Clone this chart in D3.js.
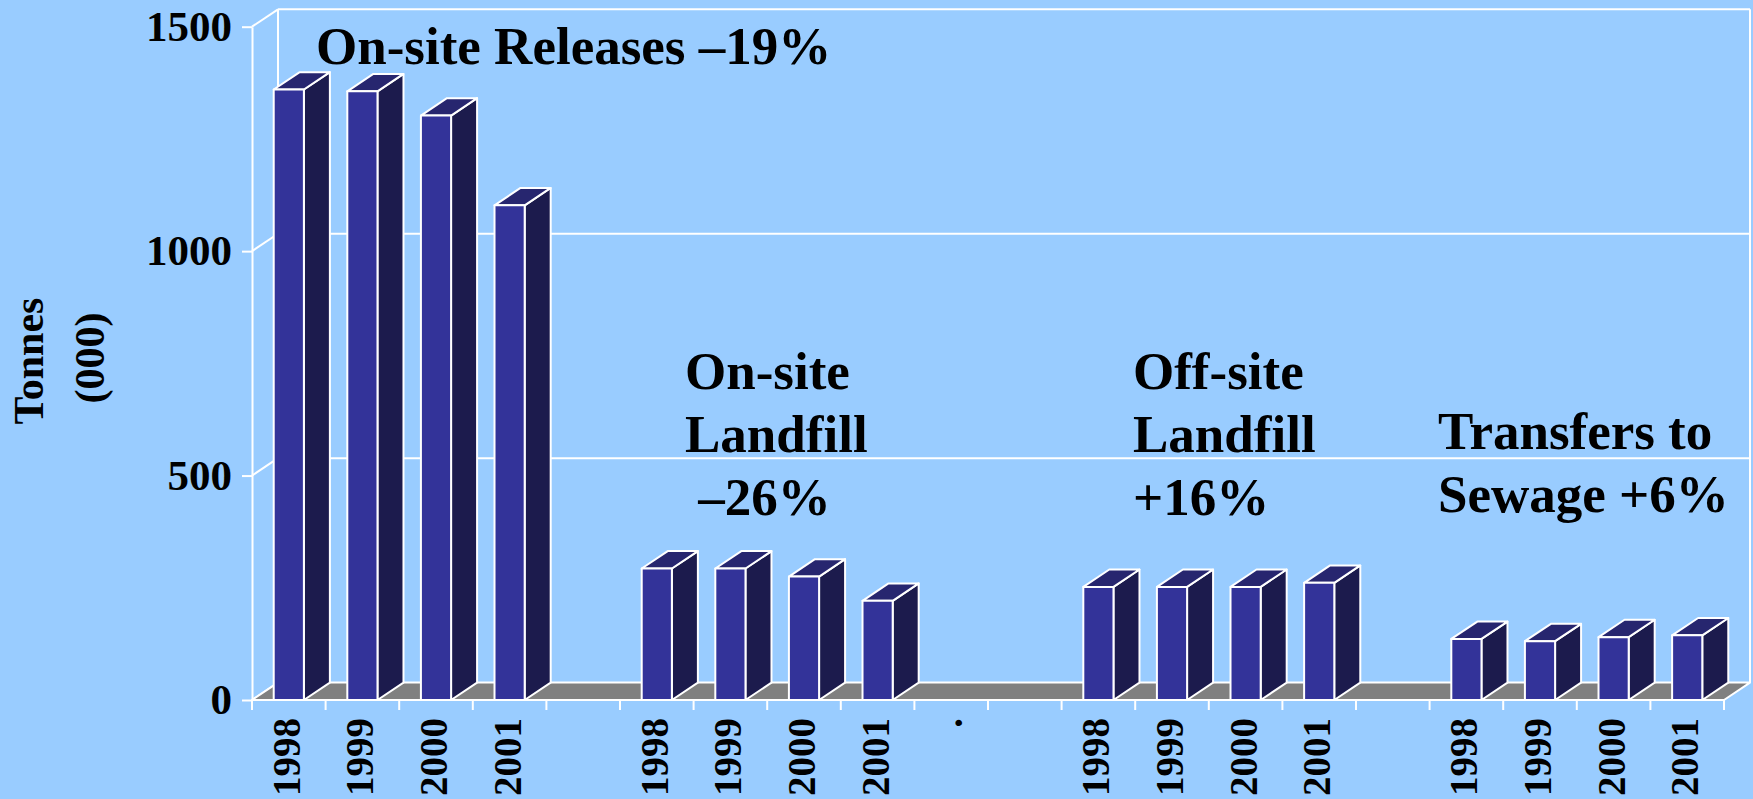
<!DOCTYPE html>
<html>
<head>
<meta charset="utf-8">
<script src="https://cdn.jsdelivr.net/npm/d3@7"></script>
<style>
  html, body { margin: 0; padding: 0; background: #99ccff; }
  svg { display: block; }
  text { font-family: "Liberation Serif", "Times New Roman", serif; font-weight: bold; fill: #000; }
</style>
</head>
<body>
<div id="chart"></div>
<script>
// values (tonnes, thousands)
var years = ["1998", "1999", "2000", "2001"]
var onSiteReleases = [1360, 1356, 1302, 1102]
var onSiteLandfill = [293, 293, 275, 221]
var offSiteLandfill = [252, 252, 252, 261]
var sewageTransfers = [136, 131, 140, 144]

// 20 slots along the floor, blanks between the groups
var tickLabels = ["1998", "1999", "2000", "2001", "",
                  "1998", "1999", "2000", "2001", ".", "",
                  "1998", "1999", "2000", "2001", "",
                  "1998", "1999", "2000", "2001"]
var groupFirstSlot = [0, 5, 11, 16]
var yTicks = [0, 500, 1000, 1500]

var notes = [["On-site Releases –19%"],
             ["On-site", "Landfill", " –26%"],
             ["Off-site", "Landfill", "+16%"],
             ["Transfers to", "Sewage +6%"]]

// set the dimensions of the graph
var W = 1753, H = 799
var plotLeft = 252, plotRight = 1724, plotTop = 26.7, plotBottom = 700
var depthX = 26, depthY = 17.4

var svg = d3.select("#chart")
  .append("svg")
    .attr("width", W)
    .attr("height", H)

svg.append("rect")
  .attr("width", W)
  .attr("height", H)
  .attr("fill", "#99ccff")

var x = d3.scaleBand()
  .domain(d3.range(tickLabels.length))
  .range([plotLeft, plotRight])
  .padding(0)

var y = d3.scaleLinear()
  .domain([0, 1500])
  .range([plotBottom, plotTop])

var barW = x.bandwidth() * 0.41

// walls: side wall diagonals + back wall grid lines
var walls = svg.append("g")
  .attr("stroke", "#fff")
  .attr("stroke-width", 2)
  .attr("fill", "none")

walls.selectAll(".diag")
  .data(yTicks)
  .enter()
  .append("line")
    .attr("x1", plotLeft)
    .attr("y1", function(d) { return y(d) })
    .attr("x2", plotLeft + depthX)
    .attr("y2", function(d) { return y(d) - depthY })

walls.selectAll(".grid")
  .data(yTicks.filter(function(d) { return d > 0 }))
  .enter()
  .append("line")
    .attr("x1", plotLeft + depthX)
    .attr("y1", function(d) { return y(d) - depthY })
    .attr("x2", plotRight + depthX)
    .attr("y2", function(d) { return y(d) - depthY })

walls.append("line")
  .attr("x1", plotLeft + depthX).attr("y1", y(0) - depthY)
  .attr("x2", plotLeft + depthX).attr("y2", y(1500) - depthY)
walls.append("line")
  .attr("x1", plotRight + depthX).attr("y1", y(0) - depthY)
  .attr("x2", plotRight + depthX).attr("y2", y(1500) - depthY)

// grey floor
svg.append("path")
  .attr("d", "M" + plotLeft + "," + y(0) +
             "L" + (plotLeft + depthX) + "," + (y(0) - depthY) +
             "L" + (plotRight + depthX) + "," + (y(0) - depthY) +
             "L" + plotRight + "," + y(0) + "Z")
  .attr("fill", "#808080")
  .attr("stroke", "#fff")
  .attr("stroke-width", 2)
  .attr("stroke-linejoin", "round")

// y axis on the front edge
var yAxis = svg.append("g")
  .attr("transform", "translate(" + plotLeft + ",0)")
  .call(d3.axisLeft(y).tickValues(yTicks).tickFormat(d3.format("d"))
    .tickSize(10).tickSizeOuter(0).tickPadding(10))
yAxis.select(".domain").attr("stroke", "#fff").attr("stroke-width", 2)
yAxis.selectAll(".tick line").attr("stroke", "#fff").attr("stroke-width", 2)
yAxis.selectAll(".tick text")
  .attr("fill", "#000")
  .style("font-family", "'Liberation Serif', 'Times New Roman', serif")
  .style("font-weight", "bold")
  .style("font-size", "43px")

// bars
var bars = []
var series = [onSiteReleases, onSiteLandfill, offSiteLandfill, sewageTransfers]
series.forEach(function(vals, g) {
  vals.forEach(function(v, i) {
    bars.push({slot: groupFirstSlot[g] + i, year: years[i], value: v})
  })
})

var barG = svg.selectAll(".bar")
  .data(bars)
  .enter()
  .append("g")
    .attr("class", "bar")
    .attr("stroke", "#fff")
    .attr("stroke-width", 2)
    .attr("stroke-linejoin", "round")

function x0(d) { return x(d.slot) + (x.bandwidth() - barW) / 2 }

// side face
barG.append("path")
  .attr("fill", "#1c1b4d")
  .attr("d", function(d) {
    var a = x0(d) + barW, t = y(d.value), b = y(0)
    return "M" + a + "," + t + "L" + (a + depthX) + "," + (t - depthY) +
           "L" + (a + depthX) + "," + (b - depthY) + "L" + a + "," + b + "Z"
  })
// top face
barG.append("path")
  .attr("fill", "#27266f")
  .attr("d", function(d) {
    var a = x0(d), t = y(d.value)
    return "M" + a + "," + t + "L" + (a + depthX) + "," + (t - depthY) +
           "L" + (a + barW + depthX) + "," + (t - depthY) + "L" + (a + barW) + "," + t + "Z"
  })
// front face
barG.append("rect")
  .attr("fill", "#333399")
  .attr("x", x0)
  .attr("y", function(d) { return y(d.value) })
  .attr("width", barW)
  .attr("height", function(d) { return y(0) - y(d.value) })

// x axis: ticks on slot boundaries, rotated year labels
var bounds = x.domain().map(function(k) { return x(k) }).concat([plotRight])
svg.append("line")
  .attr("x1", plotLeft).attr("y1", y(0))
  .attr("x2", plotRight).attr("y2", y(0))
  .attr("stroke", "#fff").attr("stroke-width", 2)

svg.selectAll(".xtick")
  .data(bounds)
  .enter()
  .append("line")
    .attr("x1", function(d) { return d })
    .attr("x2", function(d) { return d })
    .attr("y1", y(0))
    .attr("y2", y(0) + 10)
    .attr("stroke", "#fff")
    .attr("stroke-width", 2)

svg.selectAll(".xlabel")
  .data(tickLabels)
  .enter()
  .append("text")
    .attr("text-anchor", "end")
    .style("font-size", "39px")
    .attr("transform", function(d, i) {
      return "translate(" + (x(i) + x.bandwidth() / 2 + 11) + "," + (y(0) + 18) + ") rotate(-90)"
    })
    .text(function(d) { return d })

// y axis title
var titleG = svg.append("g").style("font-size", "42px")
titleG.append("text")
  .attr("text-anchor", "middle")
  .attr("transform", "translate(43,361) rotate(-90)")
  .text("Tonnes")
titleG.append("text")
  .attr("text-anchor", "middle")
  .attr("transform", "translate(104,358) rotate(-90)")
  .text("(000)")

// group notes
var noteX = [316, 685, 1133, 1438]
var noteY = [64, 389, 389, 449]
notes.forEach(function(lines, g) {
  svg.append("text")
    .attr("x", noteX[g])
    .attr("y", noteY[g])
    .style("font-size", "53px")
    .style("white-space", "pre")
    .selectAll("tspan")
    .data(lines)
    .enter()
    .append("tspan")
      .attr("x", noteX[g])
      .attr("dy", function(d, i) { return i == 0 ? 0 : 63 })
      .text(function(d) { return d })
})
</script>
</body>
</html>
